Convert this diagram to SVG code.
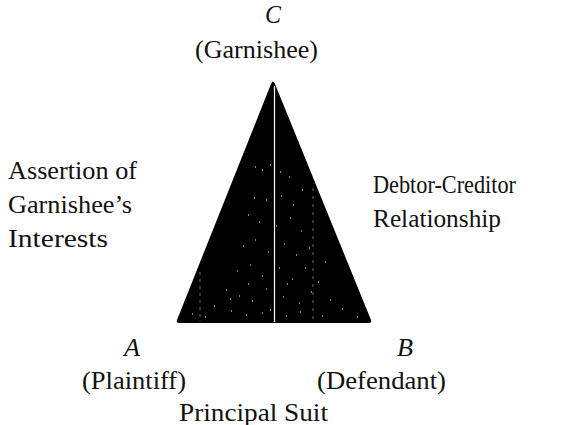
<svg xmlns="http://www.w3.org/2000/svg" width="562" height="425" viewBox="0 0 562 425">
<style>
text{font-family:"Liberation Serif","Times New Roman",serif;font-size:25px;fill:#111}
.it{font-style:italic}
.m{text-anchor:middle}
</style>
<rect width="562" height="425" fill="#fff"/>
<g id="triangle">
<path d="M271,84 Q273,79 275,84 L371,320 Q372,323 369,323 L179,323 Q176,323 177,320 Z" fill="#000"/>
<line x1="274.5" y1="86" x2="274.5" y2="322" stroke="#fff" stroke-width="1.2"/>
<line x1="200" y1="272" x2="200" y2="322" stroke="#fff" stroke-width="0.6" stroke-dasharray="3 4" opacity="0.7"/>
<line x1="313" y1="188" x2="313" y2="322" stroke="#fff" stroke-width="0.6" stroke-dasharray="3 5" opacity="0.7"/>
<path d="M255,167h1M262,170h1M270,165h1M280,172h1M289,177h1M302,190h1M254,198h1M266,200h1M281,196h1M293,205h1M248,215h1M259,222h1M276,226h1M290,218h1M301,231h1M243,246h1M255,240h1M268,252h1M284,244h1M296,255h1M309,248h1M237,271h1M250,265h1M262,276h1M279,268h1M292,279h1M305,268h1M318,282h1M226,290h1M239,296h1M252,301h1M266,289h1M283,297h1M299,303h1M311,292h1M330,300h1M214,306h1M231,311h1M246,315h1M262,313h1M286,316h1M300,312h1M322,316h1M342,309h1M205,317h1M192,314h1M357,317h1M325,262h1M230,299h1M270,310h1M287,284h1M248,284h1" stroke="#fff" stroke-width="1.2"/>
</g>
<g id="node-c">
<text class="it m" x="273" y="23" textLength="16" lengthAdjust="spacingAndGlyphs">C</text>
<text class="m" x="256.5" y="58" textLength="123" lengthAdjust="spacingAndGlyphs">(Garnishee)</text>
</g>
<g id="node-a">
<text class="it m" x="132" y="356" textLength="16" lengthAdjust="spacingAndGlyphs">A</text>
<text class="m" x="134" y="389" textLength="104" lengthAdjust="spacingAndGlyphs">(Plaintiff)</text>
</g>
<g id="node-b">
<text class="it m" x="405" y="356" textLength="16" lengthAdjust="spacingAndGlyphs">B</text>
<text class="m" x="381.5" y="389" textLength="129" lengthAdjust="spacingAndGlyphs">(Defendant)</text>
</g>
<g id="labels">
<text x="8" y="179" textLength="129" lengthAdjust="spacingAndGlyphs">Assertion of</text>
<text x="8" y="213" textLength="124" lengthAdjust="spacingAndGlyphs">Garnishee’s</text>
<text x="8" y="247" textLength="100" lengthAdjust="spacingAndGlyphs">Interests</text>
<text x="373" y="193" textLength="143" lengthAdjust="spacingAndGlyphs">Debtor-Creditor</text>
<text x="373" y="227" textLength="128" lengthAdjust="spacingAndGlyphs">Relationship</text>
<text class="m" x="253.5" y="421" textLength="149" lengthAdjust="spacingAndGlyphs">Principal Suit</text>
</g>
</svg>
